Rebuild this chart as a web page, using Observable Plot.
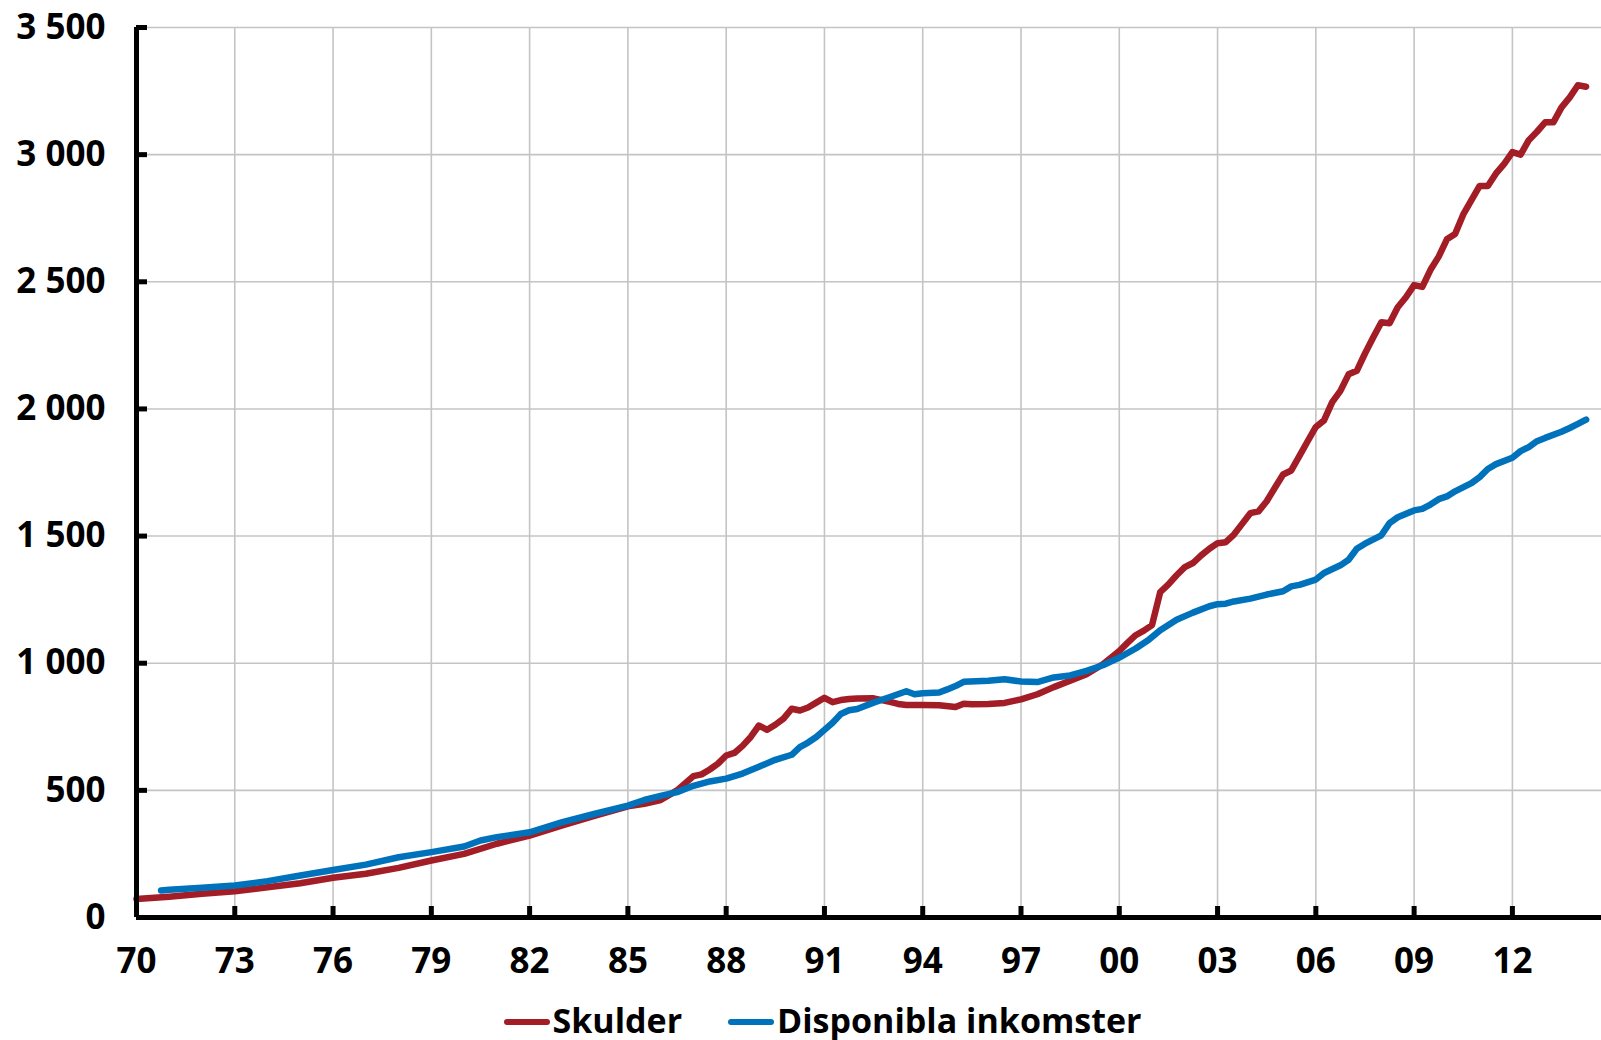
<!DOCTYPE html>
<html>
<head>
<meta charset="utf-8">
<script src="https://cdn.jsdelivr.net/npm/d3@7"></script>
<script src="https://cdn.jsdelivr.net/npm/@observablehq/plot@0.6"></script>
<style>
  html, body { margin: 0; padding: 0; background: #fff; overflow: hidden; }
  body { font-family: "Open Sans", sans-serif; width: 1601px; height: 1040px; }
  #chart svg { display: block; }
  #legend {
    display: flex; justify-content: center; align-items: center;
    height: 40px; line-height: 40px; margin-top: 15px; padding-left: 44px; box-sizing: border-box; width: 1601px;
    font-family: "Open Sans", sans-serif; font-weight: 700; font-size: 34px; color: #000;
  }
  .item { display: flex; align-items: center; }
  .swatch { width: 46px; height: 6px; border-radius: 3px; margin-right: 3px; margin-top: 4px; }
</style>
</head>
<body>
<div id="chart"></div>
<div id="legend"></div>
<script>
// Series names and colours
const seriesNames = ["Skulder", "Disponibla inkomster"];
const seriesColors = ["#a21d25", "#0072bc"];

// Skulder (debts), billions SEK
const skulderYears = [
  1970, 1971, 1972, 1973, 1974, 1975, 1976, 1977, 1978, 1979, 1980, 1981, 1982, 1983, 1984, 1985,
  1985.5, 1986, 1986.5, 1987, 1987.25, 1987.5, 1987.75, 1988, 1988.25, 1988.5, 1988.75,
  1989, 1989.25, 1989.5, 1989.75, 1990, 1990.25, 1990.5, 1990.75, 1991, 1991.25, 1991.5, 1991.75,
  1992, 1992.5, 1993, 1993.25, 1993.5, 1994, 1994.5, 1995, 1995.25, 1995.5, 1996, 1996.5,
  1997, 1997.5, 1998, 1998.5, 1999, 1999.5, 2000, 2000.25, 2000.5, 2000.75,
  2001, 2001.25, 2001.5, 2001.75, 2002, 2002.25, 2002.5, 2002.75, 2003, 2003.25, 2003.5, 2003.75,
  2004, 2004.25, 2004.5, 2004.75, 2005, 2005.25, 2005.5, 2005.75, 2006, 2006.25, 2006.5, 2006.75,
  2007, 2007.25, 2007.5, 2007.75, 2008, 2008.25, 2008.5, 2008.75, 2009, 2009.25, 2009.5, 2009.75,
  2010, 2010.25, 2010.5, 2010.75, 2011, 2011.25, 2011.5, 2011.75, 2012, 2012.25, 2012.5, 2012.75,
  2013, 2013.25, 2013.5, 2013.75, 2014, 2014.25
];
const skulderValues = [
  73, 82, 93, 103, 119, 135, 156, 172, 195, 224, 250, 290, 322, 362, 401, 437,
  447, 462, 500, 556, 563, 582, 605, 637, 647, 675, 710,
  755, 738, 758, 782, 821, 814, 826, 845, 864, 847, 855, 859,
  861, 862, 848, 840, 836, 836, 835, 828, 841, 839, 840, 844,
  858, 878, 906, 931, 957, 996, 1048, 1080, 1110, 1128,
  1150, 1280, 1310, 1346, 1378, 1394, 1424, 1450, 1472, 1476, 1506, 1548,
  1590, 1597, 1637, 1690, 1742, 1758, 1815, 1873, 1929, 1955, 2027, 2071,
  2136, 2150, 2218, 2281, 2341, 2337, 2400, 2439, 2487, 2480, 2547, 2599,
  2667, 2688, 2765, 2821, 2877, 2877, 2926, 2964, 3010, 3000, 3057, 3090,
  3127, 3127, 3186, 3225, 3273, 3267
];

// Disponibla inkomster (disposable income), billions SEK
const inkomsterYears = [
  1970.75, 1971, 1972, 1973, 1974, 1975, 1976, 1977, 1978, 1979, 1980, 1980.5, 1981, 1982, 1983, 1984, 1985,
  1985.5, 1986, 1986.5, 1987, 1987.5, 1988, 1988.5, 1989, 1989.5, 1990, 1990.25, 1990.5, 1990.75,
  1991, 1991.25, 1991.5, 1991.75, 1992, 1992.5, 1993, 1993.5, 1993.75, 1994, 1994.5, 1994.75,
  1995, 1995.25, 1996, 1996.5, 1997, 1997.5, 1998, 1998.5, 1999, 1999.5, 2000, 2000.5, 2000.88,
  2001.25, 2001.75, 2002.25, 2002.75, 2003, 2003.25, 2003.5, 2004, 2004.5, 2005, 2005.25, 2005.5,
  2006, 2006.25, 2006.75, 2007, 2007.25, 2007.5, 2008, 2008.25, 2008.5, 2009, 2009.25, 2009.5, 2009.75,
  2010, 2010.25, 2010.75, 2011, 2011.25, 2011.5, 2012, 2012.25, 2012.5, 2012.75,
  2013, 2013.5, 2013.75, 2014, 2014.25
];
const inkomsterValues = [
  106, 109, 117, 126, 143, 165, 187, 208, 237, 257, 279, 303, 316, 335, 375, 408, 440,
  462, 478, 493, 518, 535, 546, 566, 593, 620, 640, 670, 688, 710,
  738, 766, 800, 815, 820, 845, 867, 890, 878, 882, 885, 897,
  910, 927, 931, 937, 928, 926, 944, 952, 970, 992, 1022, 1058, 1090,
  1130, 1171, 1199, 1224, 1232, 1234, 1243, 1254, 1270, 1283, 1302, 1308,
  1329, 1355, 1385, 1407, 1450, 1470, 1503, 1551, 1574, 1601, 1607, 1624, 1645,
  1656, 1676, 1708, 1732, 1764, 1783, 1808, 1834, 1850, 1873,
  1886, 1910, 1925, 1941, 1958
];

// Axis ticks
const xTicks = d3.range(1970, 2013, 3);
const yTicks = d3.range(0, 3501, 500);
const xDomain = [1970, 2014.72];
const yDomain = [0, 3500];

const data = [
  ...skulderYears.map((y, i) => ({year: y, value: skulderValues[i], series: seriesNames[0]})),
  ...inkomsterYears.map((y, i) => ({year: y, value: inkomsterValues[i], series: seriesNames[1]}))
];

const fmtY = d => d3.format(",")(d).replace(/,/g, " ");
const fmtX = d => String(d % 100).padStart(2, "0");

const chart = Plot.plot({
  width: 1601,
  height: 985,
  marginLeft: 136,
  marginRight: 0,
  marginTop: 27,
  marginBottom: 68,
  x: {domain: xDomain},
  y: {domain: yDomain},
  color: {domain: seriesNames, range: seriesColors},
  style: {fontFamily: "Open Sans", fontWeight: 700, fontSize: "35px", color: "#000", background: "#fff", overflow: "visible"},
  marks: [
    Plot.gridX(xTicks.filter(t => t > xDomain[0]), {stroke: "#c4c4c4", strokeOpacity: 1, strokeWidth: 1.6}),
    Plot.gridY(yTicks.filter(t => t > 0), {stroke: "#c4c4c4", strokeOpacity: 1, strokeWidth: 1.6}),
    Plot.line(data, {x: "year", y: "value", z: "series", stroke: "series", strokeWidth: 6.5, strokeLinecap: "round", strokeLinejoin: "round"}),
    Plot.ruleX([xDomain[0]], {stroke: "#000", strokeWidth: 5}),
    Plot.ruleY([yDomain[0]], {stroke: "#000", strokeWidth: 5}),
    Plot.axisX(xTicks, {tickSize: -11, strokeWidth: 5, tickFormat: () => "", label: null}),
    Plot.axisX(xTicks, {tickSize: 0, tickPadding: 31, tickFormat: fmtX, label: null, fontSize: 35, fontWeight: 700}),
    Plot.axisY(yTicks, {tickSize: -11, strokeWidth: 5, tickFormat: () => "", label: null}),
    Plot.axisY(yTicks, {tickSize: 0, tickPadding: 31, tickFormat: fmtY, label: null, fontSize: 35, fontWeight: 700})
  ]
});
document.getElementById("chart").appendChild(chart);

const legend = document.getElementById("legend");
seriesNames.forEach((name, i) => {
  const item = document.createElement("div");
  item.className = "item";
  if (i > 0) item.style.marginLeft = "46px";
  const sw = document.createElement("span");
  sw.className = "swatch";
  sw.style.background = seriesColors[i];
  const label = document.createElement("span");
  label.textContent = name;
  item.appendChild(sw);
  item.appendChild(label);
  legend.appendChild(item);
});
</script>
</body>
</html>
